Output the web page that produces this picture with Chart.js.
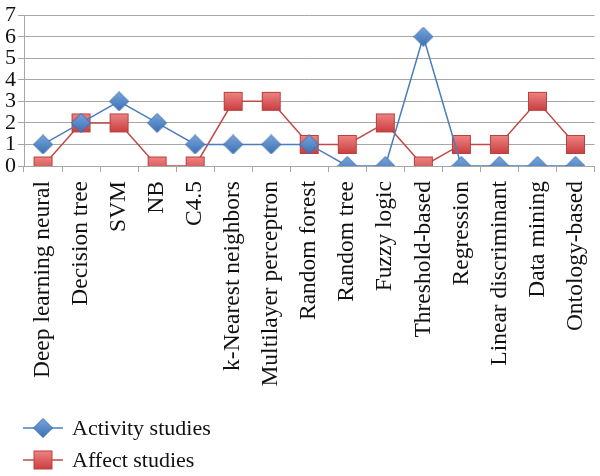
<!DOCTYPE html>
<html><head><meta charset="utf-8">
<script src="https://cdn.jsdelivr.net/npm/chart.js@4"></script>
<style>
html,body{margin:0;padding:0;background:#fff;width:600px;height:476px;overflow:hidden;}
#wrap{position:absolute;left:0;top:0;width:600px;height:476px;}
.leg{position:absolute;left:0;font-family:"Liberation Serif",serif;font-size:22px;color:#111;}
.leg canvas{position:absolute;left:20px;top:0;}
.leg span{position:absolute;left:72px;top:0;white-space:nowrap;line-height:30px;}
</style></head><body>
<div id="wrap"><canvas id="c" width="600" height="476"></canvas></div>
<div class="leg" style="top:413px"><canvas id="l1" width="46" height="30"></canvas><span>Activity studies</span></div>
<div class="leg" style="top:445px"><canvas id="l2" width="46" height="30"></canvas><span>Affect studies</span></div>
<script>
const categories = ["Deep learning neural","Decision tree","SVM","NB","C4.5","k-Nearest neighbors","Multilayer perceptron","Random forest","Random tree","Fuzzy logic","Threshold-based","Regression","Linear discriminant","Data mining","Ontology-based"];
const activityStudies = [1,2,3,2,1,1,1,1,0,0,6,0,0,0,0];
const affectStudies = [0,2,2,0,0,3,3,1,1,2,0,1,1,3,1];
const yTicks = [0,1,2,3,4,5,6,7];

function diamond(){
  const s=20, c=document.createElement('canvas'); c.width=s; c.height=s;
  const g=c.getContext('2d'); const h=s/2;
  const gr=g.createLinearGradient(0,0,0,s); gr.addColorStop(0,'#7aa6dc'); gr.addColorStop(1,'#3a6fb5');
  g.beginPath(); g.moveTo(h,0.5); g.lineTo(s-0.5,h); g.lineTo(h,s-0.5); g.lineTo(0.5,h); g.closePath();
  g.fillStyle=gr; g.fill(); g.strokeStyle='#3d6ea8'; g.lineWidth=1; g.stroke();
  return c;
}
function square(){
  const s=21, c=document.createElement('canvas'); c.width=s; c.height=s;
  const g=c.getContext('2d');
  const gr=g.createLinearGradient(0,0,0,s); gr.addColorStop(0,'#f08a88'); gr.addColorStop(1,'#c8383a');
  g.fillStyle=gr; g.fillRect(1,1,s-2,s-2); g.strokeStyle='#b8413e'; g.lineWidth=1; g.strokeRect(1.5,1.5,s-3,s-3);
  return c;
}
const dImg=diamond(), sImg=square();

new Chart(document.getElementById('c'),{
  type:'line',
  data:{labels:categories,datasets:[
    {label:'Activity studies',data:activityStudies,borderColor:'#4a7ebb',borderWidth:1.5,pointStyle:dImg,tension:0},
    {label:'Affect studies',data:affectStudies,borderColor:'#be4b48',borderWidth:1.5,pointStyle:sImg,tension:0}
  ]},
  options:{
    responsive:false,animation:false,
    layout:{padding:{top:3,right:0,left:0,bottom:84}},
    plugins:{legend:{display:false},tooltip:{enabled:false}},
    scales:{
      x:{offset:true,
        afterFit:(s)=>{s.height=226;s.paddingLeft=0;s.paddingRight=0;},
        grid:{display:true,drawOnChartArea:false,drawTicks:true,tickLength:6,color:'#a6a6a6',offset:true},
        border:{color:'#a6a6a6'},
        ticks:{font:{family:'Liberation Serif',size:23.5},color:'#111',maxRotation:90,minRotation:90,autoSkip:false,padding:9}},
      y:{min:0,max:7,
        afterBuildTicks:(a)=>{a.ticks=yTicks.map(v=>({value:v}));},
        afterFit:(s)=>{s.width=24;},
        grid:{color:'#a6a6a6',drawTicks:true,tickLength:6},
        border:{color:'#a6a6a6'},
        ticks:{font:{family:'Liberation Serif',size:22},color:'#111',padding:2,autoSkip:false}}
    }
  }
});

function legLine(id,img,col){
  const g=document.getElementById(id).getContext('2d');
  g.strokeStyle=col; g.lineWidth=1.5; g.beginPath(); g.moveTo(3,15); g.lineTo(43,15); g.stroke();
  g.drawImage(img,23-img.width/2,15-img.height/2);
}
legLine('l1',dImg,'#4a7ebb');
legLine('l2',sImg,'#be4b48');
</script>
</body></html>
